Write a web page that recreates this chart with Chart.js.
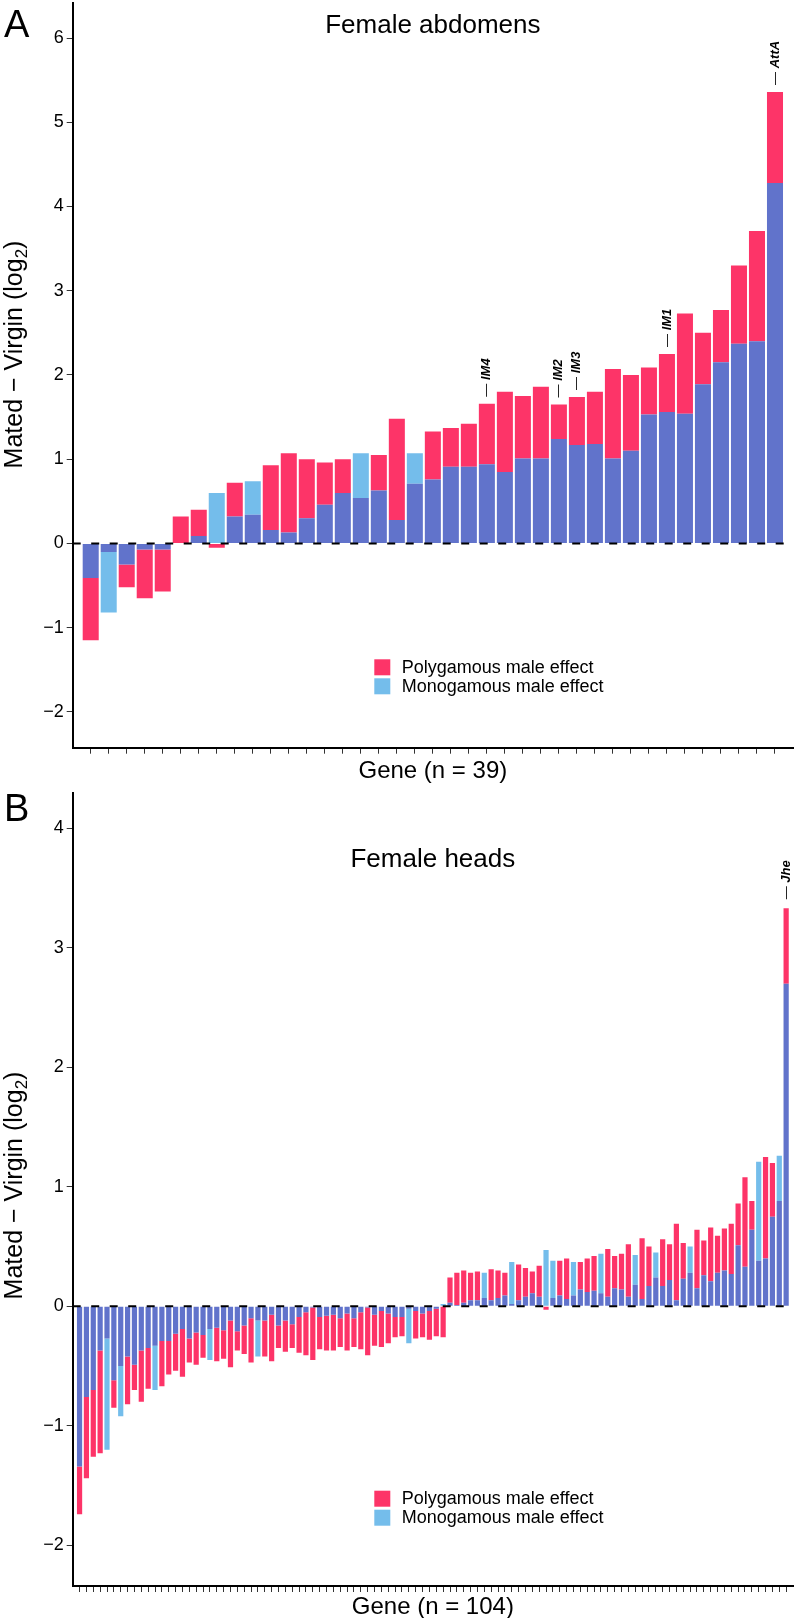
<!DOCTYPE html>
<html>
<head>
<meta charset="utf-8">
<title>Mated - Virgin expression change</title>
<style>
  body { margin: 0; background: #fff; }
  #wrap { position: relative; width: 796px; height: 1618px; }
  canvas { position: absolute; left: 0; }
</style>
</head>
<body>
<div id="wrap">
  <canvas id="chartA" width="796" height="790" style="top:0"></canvas>
  <canvas id="chartB" width="796" height="828" style="top:790px"></canvas>
</div>
<script src="https://cdn.jsdelivr.net/npm/chart.js"></script>
<script>
// Panel A: female abdomens, 39 genes (ordered as in the figure)
var polyA = [-1.15, -0.10, -0.52, -0.65, -0.57, 0.32, 0.40, -0.05, 0.72, 0.34,
             0.93, 1.07, 1.00, 0.96, 1.00, 0.54, 1.05, 1.48, 0.71, 1.33,
             1.37, 1.42, 1.66, 1.80, 1.75, 1.86, 1.65, 1.74, 1.80, 2.07,
             2.00, 2.09, 2.25, 2.73, 2.50, 2.77, 3.30, 3.71, 5.36];
var monoA = [-0.41, -0.82, -0.25, -0.07, -0.07, 0.00, 0.09, 0.60, 0.32, 0.74,
             0.16, 0.13, 0.30, 0.46, 0.60, 1.07, 0.63, 0.28, 1.07, 0.76,
             0.91, 0.91, 0.94, 0.85, 1.01, 1.01, 1.24, 1.17, 1.18, 1.01,
             1.10, 1.53, 1.56, 1.54, 1.89, 2.15, 2.37, 2.40, 4.28];
var namedA = [[22, 'IM4'], [26, 'IM2'], [27, 'IM3'], [32, 'IM1'], [38, 'AttA']];
var yTicksA = [-2, -1, 0, 1, 2, 3, 4, 5, 6];

// Panel B: female heads, 104 genes
var polyB = [-1.74, -1.44, -1.26, -1.23, -0.27, -0.85, -0.50, -0.82, -0.70, -0.80,
             -0.69, -0.33, -0.67, -0.57, -0.54, -0.59, -0.47, -0.49, -0.43, -0.19,
             -0.46, -0.44, -0.51, -0.37, -0.40, -0.47, -0.12, -0.42, -0.46, -0.35,
             -0.38, -0.35, -0.39, -0.41, -0.45, -0.36, -0.37, -0.37, -0.34, -0.37,
             -0.34, -0.36, -0.41, -0.33, -0.34, -0.31, -0.26, -0.25, -0.02, -0.27,
             -0.26, -0.28, -0.25, -0.26, 0.24, 0.28, 0.30, 0.28, 0.29, 0.07,
             0.31, 0.30, 0.28, 0.02, 0.35, 0.32, 0.29, 0.34, -0.03, 0.07,
             0.38, 0.40, 0.09, 0.37, 0.40, 0.42, 0.11, 0.48, 0.42, 0.44,
             0.52, 0.18, 0.57, 0.50, 0.24, 0.56, 0.52, 0.69, 0.53, 0.28,
             0.64, 0.55, 0.66, 0.59, 0.65, 0.69, 0.86, 1.08, 0.88, 0.38,
             1.25, 1.20, 0.88, 3.33];
var monoB = [-1.34, -0.76, -0.70, -0.37, -1.20, -0.62, -0.92, -0.42, -0.49, -0.37,
             -0.35, -0.70, -0.29, -0.29, -0.23, -0.19, -0.27, -0.22, -0.24, -0.45,
             -0.18, -0.20, -0.12, -0.21, -0.16, -0.10, -0.42, -0.12, -0.07, -0.16,
             -0.12, -0.15, -0.09, -0.05, -0.01, -0.09, -0.08, -0.07, -0.10, -0.06,
             -0.10, -0.05, -0.01, -0.07, -0.04, -0.06, -0.09, -0.09, -0.31, -0.04,
             -0.06, -0.04, -0.02, 0.02, 0.03, 0.01, 0.03, 0.05, 0.05, 0.28,
             0.05, 0.07, 0.09, 0.37, 0.05, 0.08, 0.11, 0.08, 0.47, 0.38,
             0.09, 0.06, 0.37, 0.14, 0.12, 0.13, 0.44, 0.08, 0.15, 0.14,
             0.08, 0.43, 0.06, 0.17, 0.45, 0.17, 0.22, 0.05, 0.23, 0.50,
             0.15, 0.26, 0.21, 0.28, 0.30, 0.27, 0.51, 0.33, 0.64, 1.21,
             0.40, 0.75, 1.26, 2.70];
var namedB = [[103, 'Jhe']];
var yTicksB = [-2, -1, 0, 1, 2, 3, 4];

var FONT = "'Liberation Sans', Arial, Helvetica, sans-serif";
var SHARED = '#6173cb', POLY = '#fd3468', MONO = '#74bdeb';

// dark blue = part common to both effects, pink / light blue = the rest
function split(poly, mono) {
    var shared = [], p = [], m = [];
    for (var i = 0; i < poly.length; i++) {
        var s = poly[i] * mono[i] > 0 ? Math.sign(poly[i]) * Math.min(Math.abs(poly[i]), Math.abs(mono[i])) : 0;
        shared.push(s);
        p.push(Math.round((poly[i] - s) * 1000) / 1000);
        m.push(Math.round((mono[i] - s) * 1000) / 1000);
    }
    return { shared: shared, poly: p, mono: m };
}

function decor(cfg) {
    return {
        id: 'decor',
        afterDatasetsDraw: function(chart) {
            var ctx = chart.ctx, a = chart.chartArea;
            var y0 = chart.scales.y.getPixelForValue(0);
            ctx.save();
            ctx.strokeStyle = '#000';
            ctx.lineWidth = 2;
            ctx.setLineDash([8, 10.5]);
            ctx.beginPath();
            ctx.moveTo(a.left, y0);
            ctx.lineTo(a.right, y0);
            ctx.stroke();
            ctx.restore();
        },
        afterDraw: function(chart) {
            var ctx = chart.ctx, a = chart.chartArea;
            var x = chart.scales.x, y = chart.scales.y;
            var cx = (a.left + a.right) / 2;
            ctx.save();
            ctx.fillStyle = '#000';
            ctx.textBaseline = 'alphabetic';

            ctx.font = '38px ' + FONT;
            ctx.textAlign = 'left';
            ctx.fillText(cfg.letter, 4, cfg.letterY);

            ctx.font = '26px ' + FONT;
            ctx.textAlign = 'center';
            ctx.fillText(cfg.title, cx, cfg.titleY);

            ctx.font = '24px ' + FONT;
            ctx.fillText(cfg.xTitle, cx, cfg.xTitleY);

            // y title with subscript 2
            var main = 'Mated \u2212 Virgin (log', sub = '2', end = ')';
            ctx.font = '25px ' + FONT;
            var w1 = ctx.measureText(main).width, w3 = ctx.measureText(end).width;
            ctx.font = '17px ' + FONT;
            var w2 = ctx.measureText(sub).width;
            var w = w1 + w2 + w3;
            ctx.save();
            ctx.translate(22, cfg.yTitleY);
            ctx.rotate(-Math.PI / 2);
            ctx.textAlign = 'left';
            ctx.font = '25px ' + FONT;
            ctx.fillText(main, -w / 2, 0);
            ctx.fillText(end, -w / 2 + w1 + w2, 0);
            ctx.font = '17px ' + FONT;
            ctx.fillText(sub, -w / 2 + w1, 5);
            ctx.restore();

            // legend
            var sets = chart.data.datasets.slice(1);
            ctx.font = '18px ' + FONT;
            ctx.textAlign = 'left';
            ctx.textBaseline = 'middle';
            sets.forEach(function(ds, k) {
                var ty = cfg.legendY + k * 19;
                ctx.fillStyle = ds.backgroundColor;
                ctx.fillRect(374.3, ty, 16, 16);
                ctx.fillStyle = '#000';
                ctx.fillText(ds.label, 401.7, ty + 8.5);
            });

            // gene names above the bars
            cfg.named.forEach(function(g) {
                var i = g[0];
                var top = Math.max(cfg.poly[i], cfg.mono[i], 0);
                var px = x.getPixelForValue(i), py = y.getPixelForValue(top) - cfg.gap;
                ctx.save();
                ctx.translate(px, py);
                ctx.rotate(-Math.PI / 2);
                ctx.textBaseline = 'middle';
                ctx.textAlign = 'left';
                ctx.fillStyle = '#000';
                ctx.font = '13px ' + FONT;
                ctx.fillText('\u2014', 0, 0);
                var dw = ctx.measureText('\u2014 ').width;
                ctx.font = 'italic bold 13px ' + FONT;
                ctx.fillText(g[1], dw, 0);
                ctx.restore();
            });
            ctx.restore();
        }
    };
}

function makeChart(id, poly, mono, yTicks, cfg) {
    var parts = split(poly, mono);
    var idx = poly.map(function(v, i) { return i; });
    var barOpts = { borderWidth: 0, categoryPercentage: 1, barPercentage: cfg.barPct };
    return new Chart(document.getElementById(id), {
        type: 'bar',
        data: {
            labels: idx,
            datasets: [
                Object.assign({ label: 'Shared', data: parts.shared, backgroundColor: SHARED }, barOpts),
                Object.assign({ label: 'Polygamous male effect', data: parts.poly, backgroundColor: POLY }, barOpts),
                Object.assign({ label: 'Monogamous male effect', data: parts.mono, backgroundColor: MONO }, barOpts)
            ]
        },
        options: {
            responsive: false,
            animation: false,
            devicePixelRatio: 1,
            events: [],
            layout: { padding: { top: 3.3, right: 3, left: 0, bottom: 0 } },
            plugins: { legend: { display: false }, tooltip: { enabled: false } },
            scales: {
                x: {
                    type: 'linear', min: -1, max: poly.length, offset: false, stacked: true,
                    afterBuildTicks: function(s) { s.ticks = idx.map(function(v) { return { value: v }; }); },
                    afterFit: function(s) { s.height = cfg.xHeight; s.paddingLeft = 0; s.paddingRight = 0; },
                    ticks: { display: false, autoSkip: false },
                    grid: { offset: false, drawOnChartArea: false, drawTicks: true, tickLength: 6, tickColor: '#333', lineWidth: 1 },
                    border: { display: true, color: '#000', width: 2 }
                },
                y: {
                    min: cfg.yMin, max: cfg.yMax, stacked: true,
                    afterBuildTicks: function(s) { s.ticks = yTicks.map(function(v) { return { value: v }; }); },
                    afterFit: function(s) { s.width = 72.7; s.paddingTop = 0; s.paddingBottom = 0; },
                    ticks: {
                        color: '#000', padding: 3, font: { family: FONT, size: 18 },
                        callback: function(v) { return String(v).replace('-', '\u2212'); }
                    },
                    grid: { drawOnChartArea: false, drawTicks: true, tickLength: 6, tickColor: '#333', lineWidth: 1 },
                    border: { display: true, color: '#000', width: 2 }
                }
            }
        },
        plugins: [decor(Object.assign({ poly: poly, mono: mono }, cfg))]
    });
}

makeChart('chartA', polyA, monoA, yTicksA, {
    yMin: -2.424, yMax: 6.412, barPct: 0.89, xHeight: 42.3,
    letter: 'A', letterY: 37, title: 'Female abdomens', titleY: 33.3,
    xTitle: 'Gene (n = 39)', xTitleY: 778.3, yTitleY: 354.5,
    legendY: 659.3, named: namedA, gap: 7
});

makeChart('chartB', polyB, monoB, yTicksB, {
    yMin: -2.341, yMax: 4.293, barPct: 0.76, xHeight: 32,
    letter: 'B', letterY: 31, title: 'Female heads', titleY: 76.7,
    xTitle: 'Gene (n = 104)', xTitleY: 824, yTitleY: 395.5,
    legendY: 700.7, named: namedB, gap: 9
});
</script>
</body>
</html>
